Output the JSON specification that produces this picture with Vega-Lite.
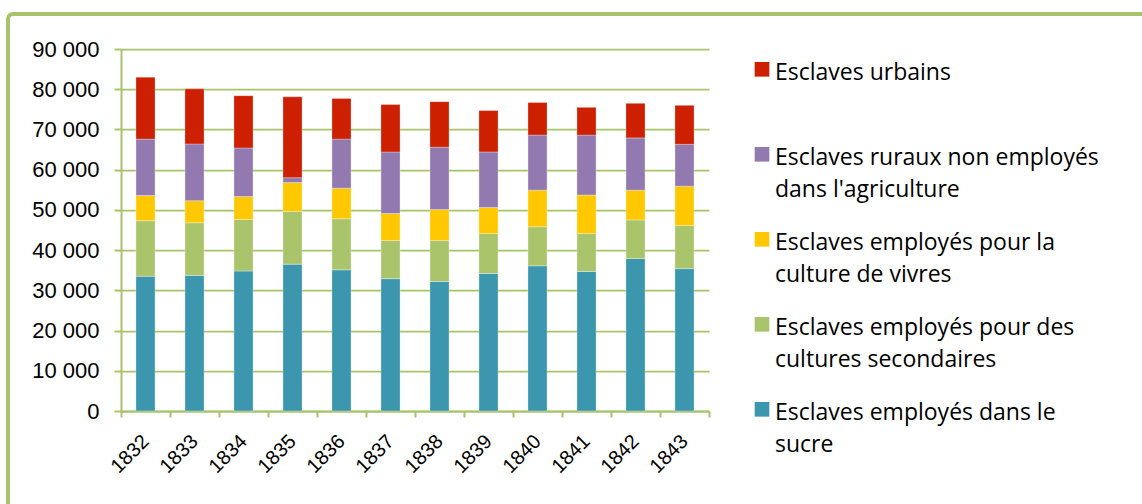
{
  "$schema": "https://vega.github.io/schema/vega-lite/v6.json",
  "width": 1144,
  "height": 500,
  "autosize": {"type": "none"},
  "padding": {"left": 8, "top": 14, "right": -10, "bottom": -10},
  "background": "#ffffff",
  "config": {
    "view": {"stroke": "#A8C46A", "strokeWidth": 4, "cornerRadius": 5, "fill": null},
    "style": {"guide-label": {"dy": 10.7, "lineHeight": 31.5}}
  },
  "data": {
    "values": [
      {"annee": "1832", "categorie": "Esclaves employés dans le sucre", "ordre": 1, "valeur": 33500},
      {"annee": "1832", "categorie": "Esclaves employés pour des cultures secondaires", "ordre": 2, "valeur": 13800},
      {"annee": "1832", "categorie": "Esclaves employés pour la culture de vivres", "ordre": 3, "valeur": 6300},
      {"annee": "1832", "categorie": "Esclaves ruraux non employés dans l'agriculture", "ordre": 4, "valeur": 14000},
      {"annee": "1832", "categorie": "Esclaves urbains", "ordre": 5, "valeur": 15400},
      {"annee": "1833", "categorie": "Esclaves employés dans le sucre", "ordre": 1, "valeur": 33700},
      {"annee": "1833", "categorie": "Esclaves employés pour des cultures secondaires", "ordre": 2, "valeur": 13100},
      {"annee": "1833", "categorie": "Esclaves employés pour la culture de vivres", "ordre": 3, "valeur": 5500},
      {"annee": "1833", "categorie": "Esclaves ruraux non employés dans l'agriculture", "ordre": 4, "valeur": 14100},
      {"annee": "1833", "categorie": "Esclaves urbains", "ordre": 5, "valeur": 13700},
      {"annee": "1834", "categorie": "Esclaves employés dans le sucre", "ordre": 1, "valeur": 34800},
      {"annee": "1834", "categorie": "Esclaves employés pour des cultures secondaires", "ordre": 2, "valeur": 12800},
      {"annee": "1834", "categorie": "Esclaves employés pour la culture de vivres", "ordre": 3, "valeur": 5700},
      {"annee": "1834", "categorie": "Esclaves ruraux non employés dans l'agriculture", "ordre": 4, "valeur": 12100},
      {"annee": "1834", "categorie": "Esclaves urbains", "ordre": 5, "valeur": 13000},
      {"annee": "1835", "categorie": "Esclaves employés dans le sucre", "ordre": 1, "valeur": 36500},
      {"annee": "1835", "categorie": "Esclaves employés pour des cultures secondaires", "ordre": 2, "valeur": 13100},
      {"annee": "1835", "categorie": "Esclaves employés pour la culture de vivres", "ordre": 3, "valeur": 7200},
      {"annee": "1835", "categorie": "Esclaves ruraux non employés dans l'agriculture", "ordre": 4, "valeur": 1200},
      {"annee": "1835", "categorie": "Esclaves urbains", "ordre": 5, "valeur": 20100},
      {"annee": "1836", "categorie": "Esclaves employés dans le sucre", "ordre": 1, "valeur": 35100},
      {"annee": "1836", "categorie": "Esclaves employés pour des cultures secondaires", "ordre": 2, "valeur": 12700},
      {"annee": "1836", "categorie": "Esclaves employés pour la culture de vivres", "ordre": 3, "valeur": 7600},
      {"annee": "1836", "categorie": "Esclaves ruraux non employés dans l'agriculture", "ordre": 4, "valeur": 12200},
      {"annee": "1836", "categorie": "Esclaves urbains", "ordre": 5, "valeur": 10100},
      {"annee": "1837", "categorie": "Esclaves employés dans le sucre", "ordre": 1, "valeur": 32900},
      {"annee": "1837", "categorie": "Esclaves employés pour des cultures secondaires", "ordre": 2, "valeur": 9500},
      {"annee": "1837", "categorie": "Esclaves employés pour la culture de vivres", "ordre": 3, "valeur": 6700},
      {"annee": "1837", "categorie": "Esclaves ruraux non employés dans l'agriculture", "ordre": 4, "valeur": 15300},
      {"annee": "1837", "categorie": "Esclaves urbains", "ordre": 5, "valeur": 11800},
      {"annee": "1838", "categorie": "Esclaves employés dans le sucre", "ordre": 1, "valeur": 32200},
      {"annee": "1838", "categorie": "Esclaves employés pour des cultures secondaires", "ordre": 2, "valeur": 10200},
      {"annee": "1838", "categorie": "Esclaves employés pour la culture de vivres", "ordre": 3, "valeur": 7700},
      {"annee": "1838", "categorie": "Esclaves ruraux non employés dans l'agriculture", "ordre": 4, "valeur": 15500},
      {"annee": "1838", "categorie": "Esclaves urbains", "ordre": 5, "valeur": 11300},
      {"annee": "1839", "categorie": "Esclaves employés dans le sucre", "ordre": 1, "valeur": 34200},
      {"annee": "1839", "categorie": "Esclaves employés pour des cultures secondaires", "ordre": 2, "valeur": 9900},
      {"annee": "1839", "categorie": "Esclaves employés pour la culture de vivres", "ordre": 3, "valeur": 6500},
      {"annee": "1839", "categorie": "Esclaves ruraux non employés dans l'agriculture", "ordre": 4, "valeur": 13800},
      {"annee": "1839", "categorie": "Esclaves urbains", "ordre": 5, "valeur": 10300},
      {"annee": "1840", "categorie": "Esclaves employés dans le sucre", "ordre": 1, "valeur": 36100},
      {"annee": "1840", "categorie": "Esclaves employés pour des cultures secondaires", "ordre": 2, "valeur": 9700},
      {"annee": "1840", "categorie": "Esclaves employés pour la culture de vivres", "ordre": 3, "valeur": 9100},
      {"annee": "1840", "categorie": "Esclaves ruraux non employés dans l'agriculture", "ordre": 4, "valeur": 13700},
      {"annee": "1840", "categorie": "Esclaves urbains", "ordre": 5, "valeur": 8100},
      {"annee": "1841", "categorie": "Esclaves employés dans le sucre", "ordre": 1, "valeur": 34700},
      {"annee": "1841", "categorie": "Esclaves employés pour des cultures secondaires", "ordre": 2, "valeur": 9400},
      {"annee": "1841", "categorie": "Esclaves employés pour la culture de vivres", "ordre": 3, "valeur": 9600},
      {"annee": "1841", "categorie": "Esclaves ruraux non employés dans l'agriculture", "ordre": 4, "valeur": 14900},
      {"annee": "1841", "categorie": "Esclaves urbains", "ordre": 5, "valeur": 6900},
      {"annee": "1842", "categorie": "Esclaves employés dans le sucre", "ordre": 1, "valeur": 37900},
      {"annee": "1842", "categorie": "Esclaves employés pour des cultures secondaires", "ordre": 2, "valeur": 9600},
      {"annee": "1842", "categorie": "Esclaves employés pour la culture de vivres", "ordre": 3, "valeur": 7400},
      {"annee": "1842", "categorie": "Esclaves ruraux non employés dans l'agriculture", "ordre": 4, "valeur": 13000},
      {"annee": "1842", "categorie": "Esclaves urbains", "ordre": 5, "valeur": 8600},
      {"annee": "1843", "categorie": "Esclaves employés dans le sucre", "ordre": 1, "valeur": 35400},
      {"annee": "1843", "categorie": "Esclaves employés pour des cultures secondaires", "ordre": 2, "valeur": 10700},
      {"annee": "1843", "categorie": "Esclaves employés pour la culture de vivres", "ordre": 3, "valeur": 9800},
      {"annee": "1843", "categorie": "Esclaves ruraux non employés dans l'agriculture", "ordre": 4, "valeur": 10400},
      {"annee": "1843", "categorie": "Esclaves urbains", "ordre": 5, "valeur": 9700}
    ]
  },
  "mark": {"type": "bar", "width": {"band": 0.39}, "stroke": "#ffffff", "strokeWidth": 0.5, "strokeOpacity": 0.6},
  "encoding": {
    "x": {
      "field": "annee",
      "type": "ordinal",
      "scale": {"range": [113, 701], "paddingInner": 0, "paddingOuter": 0},
      "axis": {
        "title": null,
        "orient": "bottom",
        "offset": -103,
        "tickBand": "extent",
        "domainColor": "#A8C46A",
        "domainWidth": 2,
        "tickColor": "#A8C46A",
        "tickWidth": 2,
        "tickSize": 6,
        "labelAngle": -45,
        "labelAlign": "right",
        "labelBaseline": "middle",
        "labelFont": "Liberation Sans",
        "labelFontSize": 20,
        "labelColor": "#000000",
        "labelPadding": 13.4,
        "labelOffset": -7.6,
        "grid": false
      }
    },
    "y": {
      "field": "valeur",
      "type": "quantitative",
      "stack": "zero",
      "scale": {"domain": [0, 90000], "range": [397, 35], "nice": false, "zero": true},
      "axis": {
        "title": null,
        "orient": "left",
        "offset": -113,
        "values": [0, 10000, 20000, 30000, 40000, 50000, 60000, 70000, 80000, 90000],
        "labelExpr": "replace(format(datum.value, ','), ',', ' ')",
        "grid": true,
        "gridColor": "#A8C46A",
        "gridWidth": 1.75,
        "domainColor": "#A8C46A",
        "domainWidth": 2,
        "tickColor": "#A8C46A",
        "tickWidth": 2,
        "tickSize": 7,
        "labelFont": "Liberation Sans",
        "labelFontSize": 22,
        "labelColor": "#000000",
        "labelPadding": 15,
        "labelOffset": -10.7
      }
    },
    "order": {"field": "ordre", "type": "quantitative", "sort": "ascending"},
    "color": {
      "field": "categorie",
      "type": "nominal",
      "scale": {
        "domain": [
          "Esclaves urbains",
          "Esclaves ruraux non employés dans l'agriculture",
          "Esclaves employés pour la culture de vivres",
          "Esclaves employés pour des cultures secondaires",
          "Esclaves employés dans le sucre"
        ],
        "range": ["#CD2000", "#927AB1", "#FFC800", "#AAC46C", "#3C97AE"]
      },
      "legend": {
        "title": null,
        "orient": "none",
        "legendX": 742.5,
        "legendY": 43.8,
        "direction": "vertical",
        "columns": 1,
        "padding": 0,
        "symbolType": "square",
        "symbolSize": 215,
        "symbolStrokeWidth": 0,
        "labelFont": "Open Sans",
        "labelFontSize": 23,
        "labelColor": "#000000",
        "labelLimit": 0,
        "labelOffset": 1.5,
        "labelBaseline": "alphabetic",
        "rowPadding": 26,
        "labelExpr": "datum.label == 'Esclaves urbains' ? ['Esclaves urbains', ' '] : datum.label == 'Esclaves employés dans le sucre' ? ['Esclaves employés dans le', 'sucre'] : datum.label == 'Esclaves employés pour des cultures secondaires' ? ['Esclaves employés pour des', 'cultures secondaires'] : datum.label == 'Esclaves employés pour la culture de vivres' ? ['Esclaves employés pour la', 'culture de vivres'] : ['Esclaves ruraux non employés', \"dans l'agriculture\"]"
      }
    }
  }
}
